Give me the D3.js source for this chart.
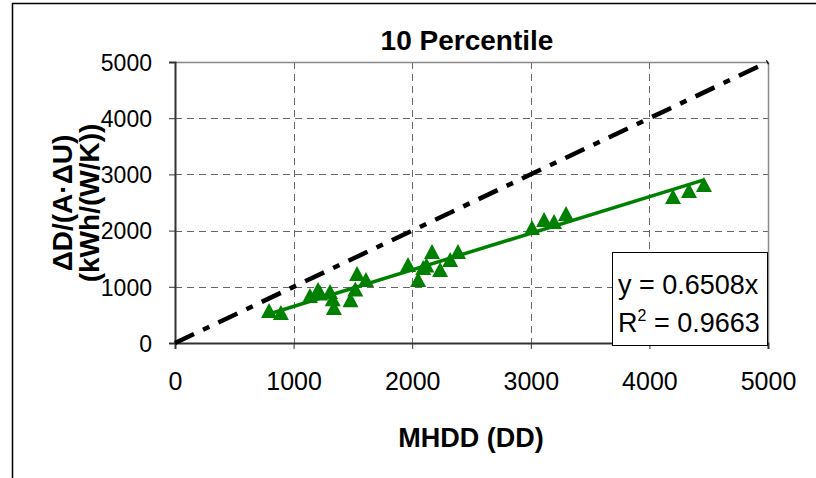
<!DOCTYPE html>
<html>
<head>
<meta charset="utf-8">
<script src="https://cdn.jsdelivr.net/npm/d3@7"></script>
<style>
  html, body { margin: 0; padding: 0; background: #fff; }
  svg { display: block; font-family: "Liberation Sans", Arial, sans-serif; }
</style>
</head>
<body>
<svg id="chart" width="816" height="478"></svg>
<script>
// Observations: mean heating degree days vs. normalised energy difference
const mhdd  = [793, 893, 1138, 1206, 1225, 1307, 1330, 1340, 1480, 1520, 1535, 1610,
               1965, 2050, 2093, 2120, 2167, 2235, 2320, 2386,
               3010, 3112, 3196, 3297, 4199, 4334, 4460];
const ratio = [569, 534, 836, 943, 880, 907, 780, 623, 760, 950, 1228, 1121,
               1388, 1121, 1334, 1380, 1619, 1299, 1477, 1619,
               2046, 2188, 2153, 2295, 2598, 2705, 2811];

const xTicks = [0, 1000, 2000, 3000, 4000, 5000];
const yTicks = [0, 1000, 2000, 3000, 4000, 5000];
const slope = 0.6508;
const rSquared = 0.9663;
const titleText = "10 Percentile";
const xTitle = "MHDD (DD)";
const yTitleLines = ["\u0394D/(A\u00B7\u0394U)", "(kWh/(W/K))"];

const svg = d3.select("#chart");
const plot = { left: 175, right: 768, top: 62, bottom: 343 };

const x = d3.scaleLinear().domain([0, 5000]).range([plot.left, plot.right]);
const y = d3.scaleLinear().domain([0, 5000]).range([plot.bottom, plot.top]);

// outer chart frame (left and top edges visible)
svg.append("path")
  .attr("d", "M12.5,478 V3.5 H816")
  .attr("fill", "none").attr("stroke", "#000").attr("stroke-width", 1.5);

// grid
const grid = svg.append("g").attr("stroke", "#666").attr("stroke-width", 1)
  .attr("stroke-dasharray", "7,5").attr("fill", "none");
grid.selectAll("line.h").data(yTicks.filter(d => d > 0 && d < 5000)).join("line")
  .attr("x1", plot.left).attr("x2", plot.right)
  .attr("y1", d => Math.round(y(d)) + 0.5).attr("y2", d => Math.round(y(d)) + 0.5);
grid.selectAll("line.v").data(xTicks.filter(d => d > 0 && d < 5000)).join("line")
  .attr("y1", plot.top).attr("y2", plot.bottom)
  .attr("x1", d => Math.round(x(d)) + 0.5).attr("x2", d => Math.round(x(d)) + 0.5);

// plot frame: top and right edges in gray
svg.append("path")
  .attr("d", `M${plot.left},${plot.top + 0.5} H${plot.right + 0.5} V${plot.bottom}`)
  .attr("fill", "none").attr("stroke", "#888").attr("stroke-width", 1.5);

// axes
const fmt = d3.format("d");
const xAxis = d3.axisBottom(x).tickValues(xTicks).tickFormat(fmt).tickSize(6).tickPadding(14);
const yAxis = d3.axisLeft(y).tickValues(yTicks).tickFormat(fmt).tickSize(6).tickPadding(17);

const gx = svg.append("g").attr("transform", `translate(0,${plot.bottom})`).call(xAxis);
const gy = svg.append("g").attr("transform", `translate(${plot.left},0)`).call(yAxis);
[gx, gy].forEach(g => {
  g.select(".domain").attr("stroke", "#333").attr("stroke-width", 2);
  g.selectAll(".tick line").attr("stroke", "#333").attr("stroke-width", 1);
  g.selectAll(".tick text").attr("fill", "#000")
    .attr("font-family", "'Liberation Sans', Arial, sans-serif");
});
gx.selectAll(".tick text").attr("font-size", 25).attr("dy", "0.72em").attr("y", 29);
gy.selectAll(".tick text").attr("font-size", 23).attr("dy", "0.36em");

// 1:1 reference line
svg.append("line")
  .attr("x1", x(0)).attr("y1", y(0)).attr("x2", x(5000)).attr("y2", y(5000))
  .attr("stroke", "#000").attr("stroke-width", 4.5)
  .attr("stroke-dasharray", "21,10,7,10");

// linear trend through the origin
const xExt = d3.extent(mhdd);
svg.append("line")
  .attr("x1", x(xExt[0])).attr("y1", y(slope * xExt[0]))
  .attr("x2", x(xExt[1])).attr("y2", y(slope * xExt[1]))
  .attr("stroke", "#008000").attr("stroke-width", 3.5);

// triangle markers
const tri = "M0,-8 L8,7 L-8,7 Z";
svg.append("g").selectAll("path").data(mhdd.map((d, i) => [d, ratio[i]])).join("path")
  .attr("d", tri)
  .attr("transform", d => `translate(${x(d[0])},${y(d[1])})`)
  .attr("fill", "#008000");

// regression label box
const box = svg.append("g");
box.append("rect").attr("x", 612.5).attr("y", 252.5).attr("width", 155).attr("height", 93)
  .attr("fill", "#fff").attr("stroke", "#000").attr("stroke-width", 1);
box.append("text").attr("x", 618).attr("y", 294).attr("font-size", 27)
  .text(`y = ${slope.toFixed(4)}x`);
const r2 = box.append("text").attr("x", 618).attr("y", 332).attr("font-size", 27);
r2.append("tspan").text("R");
r2.append("tspan").attr("font-size", 16).attr("dy", -11).text("2");
r2.append("tspan").attr("dy", 11).text(` = ${rSquared.toFixed(4)}`);

// titles
svg.append("text").attr("x", 467).attr("y", 50).attr("text-anchor", "middle")
  .attr("font-size", 28).attr("font-weight", "bold").text(titleText);
svg.append("text").attr("x", 471).attr("y", 447).attr("text-anchor", "middle")
  .attr("font-size", 27).attr("font-weight", "bold").text(xTitle);
const yt = svg.append("text").attr("transform", "translate(0,203) rotate(-90)")
  .attr("text-anchor", "middle").attr("font-size", 28).attr("font-weight", "bold");
yTitleLines.forEach((t, i) => yt.append("tspan").attr("x", 0).attr("y", 72 + i * 27).text(t));
</script>
</body>
</html>
